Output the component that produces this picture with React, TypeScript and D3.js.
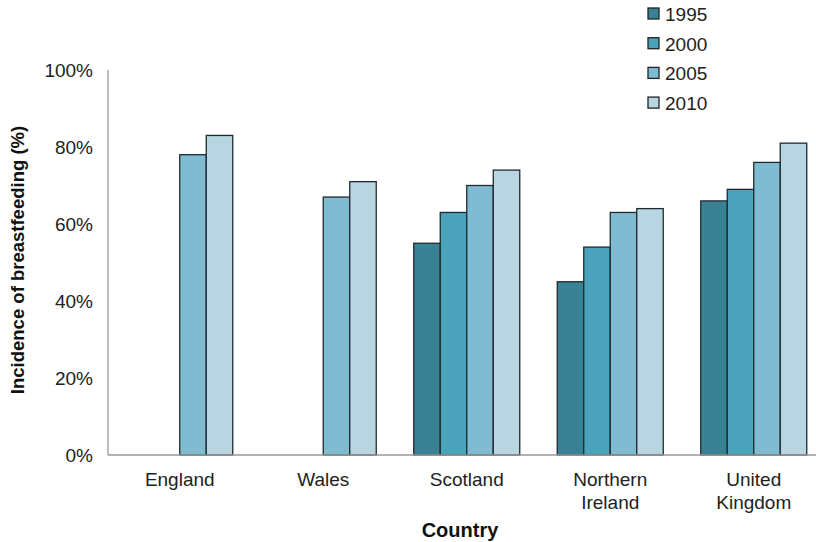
import React from "react";
import * as d3 from "d3";

const countries = [["England"], ["Wales"], ["Scotland"], ["Northern", "Ireland"], ["United", "Kingdom"]];
const years = ["1995", "2000", "2005", "2010"];
const v1995 = [null, null, 55, 45, 66];
const v2000 = [null, null, 63, 54, 69];
const v2005 = [78, 67, 70, 63, 76];
const v2010 = [83, 71, 74, 64, 81];
const yTicks = [0, 20, 40, 60, 80, 100];
const colors = ["#3a8196", "#4aa3bb", "#7fbcd2", "#b7d6e1"];

export default function App() {
  const W = 816, H = 542;
  const left = 108, top = 70, bottom = 455;
  const series = [v1995, v2000, v2005, v2010];
  const keys = countries.map((c) => c.join(" "));
  const x = d3.scaleBand().domain(keys).range([left, left + 143.5 * 5]).paddingInner(0).paddingOuter(0);
  const x1 = d3.scaleBand().domain(years).range([0, 106]);
  const y = d3.scaleLinear().domain([0, 100]).range([bottom, top]);
  const font = "Liberation Sans, Arial, sans-serif";
  return (
    <svg width={W} height={H} style={{ position: "absolute", left: 0, top: 0, background: "#fff" }} fontFamily={font}>
      <rect x={0} y={0} width={W} height={H} fill="#fff" />
      {series.map((s, si) =>
        s.map((v, ci) => {
          if (v == null) return null;
          const gx = (x(keys[ci]) as number) + (x.bandwidth() - 106) / 2;
          return (
            <rect key={si + "-" + ci} x={gx + (x1(years[si]) as number)} y={y(v)} width={x1.bandwidth()} height={bottom - y(v)}
              fill={colors[si]} stroke="#1f2a30" strokeWidth={1.3} />
          );
        })
      )}
      <line x1={left} x2={left} y1={top} y2={bottom} stroke="#999" strokeWidth={1.3} />
      <line x1={left} x2={W} y1={bottom} y2={bottom} stroke="#999" strokeWidth={1.3} />
      {yTicks.map((t) => (
        <text key={t} x={93} y={y(t)} dy="0.35em" textAnchor="end" fontSize={19} fill="#222">{t}%</text>
      ))}
      {countries.map((lines, ci) => (
        <text key={ci} x={(x(keys[ci]) as number) + x.bandwidth() / 2} y={486} textAnchor="middle" fontSize={19} fill="#222">
          {lines.map((l, li) => (
            <tspan key={li} x={(x(keys[ci]) as number) + x.bandwidth() / 2} dy={li === 0 ? 0 : 23}>{l}</tspan>
          ))}
        </text>
      ))}
      <text x={460} y={537} textAnchor="middle" fontSize={20} fontWeight="bold" fill="#111">Country</text>
      <text transform="translate(24,260) rotate(-90)" textAnchor="middle" fontSize={18.5} fontWeight="bold" fill="#111">Incidence of breastfeeding (%)</text>
      {years.map((yr, i) => (
        <g key={yr} transform={`translate(648,${14 + i * 29.7})`}>
          <rect x={0} y={-6} width={11} height={11} fill={colors[i]} stroke="#222" strokeWidth={1.3} />
          <text x={17} y={0} dy="0.36em" fontSize={19} fill="#222">{yr}</text>
        </g>
      ))}
    </svg>
  );
}
